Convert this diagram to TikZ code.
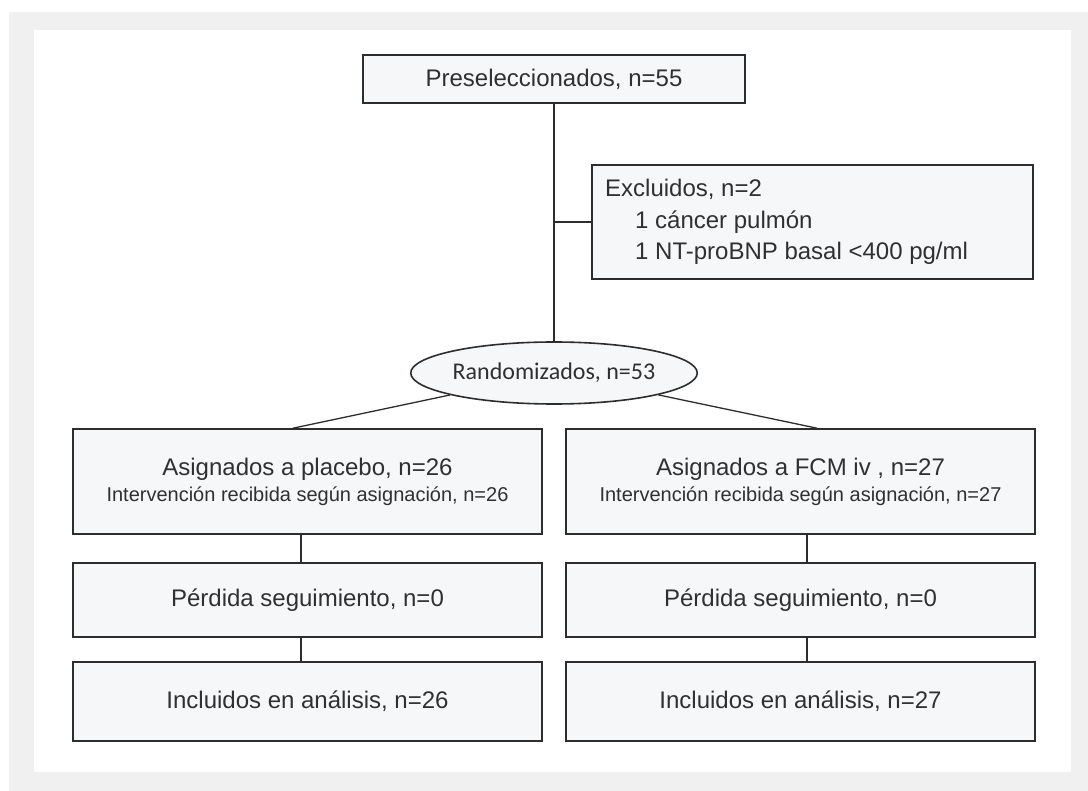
\documentclass[tikz,border=0pt]{standalone}
\usepackage{fontspec}
\setmainfont{Liberation Sans}
\newfontfamily\calib{Carlito}
\usetikzlibrary{shapes.geometric,calc}
\definecolor{framegray}{RGB}{240,240,240}
\definecolor{boxfill}{RGB}{246,247,249}
\definecolor{boxline}{RGB}{45,45,45}
\definecolor{txt}{RGB}{48,48,48}
\tikzset{
  box/.style={draw=boxline, line width=1.6pt, fill=boxfill, rectangle, inner sep=0pt,
    align=center, text=txt, font=\fontsize{24}{27}\selectfont},
  oval/.style={draw=boxline, line width=1.6pt, fill=boxfill, ellipse, inner sep=0pt,
    text=txt, font=\calib\fontsize{24}{27}\selectfont},
  conn/.style={draw=boxline, line width=1.3pt},
  sub/.style={}
}
\newcommand{\subline}[1]{{\fontsize{20}{22}\selectfont #1}}
\begin{document}
\begin{tikzpicture}[x=1pt,y=-1pt]
\useasboundingbox (0,0) rectangle (1088,791);
\fill[white] (0,0) rectangle (1088,791);
\fill[framegray] (9,12) rectangle (1088,791);
\fill[white] (34,30) rectangle (1071,772);

\node[box, minimum width=382pt, minimum height=48pt] (pre) at (554,79) {Preseleccionados, n=55};
\node[box, minimum width=441pt, minimum height=114pt] (exc) at (812.5,222) {};
\node[anchor=west, align=left, text=txt, inner sep=0pt, font=\fontsize{24}{31.5}\selectfont]
  (exctext) at (605,222) {Excluidos, n=2\\\hspace{30pt}1 cáncer pulmón\\\hspace{30pt}1 NT-proBNP basal <400 pg/ml};
\node[oval, minimum width=282pt, minimum height=62pt] (ell) at (554,373) {Randomizados, n=53};

\node[box, minimum width=469pt, minimum height=105pt] (L1) at (307.5,481.5)
  {Asignados a placebo, n=26\\[-1pt]\subline{Intervención recibida según asignación, n=26}};
\node[box, minimum width=469pt, minimum height=105pt] (R1) at (800.5,481.5)
  {Asignados a FCM iv , n=27\\[-1pt]\subline{Intervención recibida según asignación, n=27}};
\node[box, minimum width=469pt, minimum height=74pt] (L2) at (307.5,600) {Pérdida seguimiento, n=0};
\node[box, minimum width=469pt, minimum height=74pt] (R2) at (800.5,600) {Pérdida seguimiento, n=0};
\node[box, minimum width=469pt, minimum height=79pt] (L3) at (307.5,701.5) {Incluidos en análisis, n=26};
\node[box, minimum width=469pt, minimum height=79pt] (R3) at (800.5,701.5) {Incluidos en análisis, n=27};

\coordinate (j) at (pre.south |- exc.west);
\coordinate (lt) at ([xshift=-14.5pt]L1.north);
\coordinate (rt) at ([xshift=16.5pt]R1.north);

\draw[conn] (pre.south) -- (ell.north);
\draw[conn] (j) -- (exc.west);
\draw[conn] (ell) -- (lt);
\draw[conn] (ell) -- (rt);
\draw[conn] ([xshift=-6.5pt]L1.south) -- ([xshift=-6.5pt]L2.north);
\draw[conn] ([xshift=-6.5pt]L2.south) -- ([xshift=-6.5pt]L3.north);
\draw[conn] ([xshift=6.5pt]R1.south) -- ([xshift=6.5pt]R2.north);
\draw[conn] ([xshift=6.5pt]R2.south) -- ([xshift=6.5pt]R3.north);
\end{tikzpicture}
\end{document}
